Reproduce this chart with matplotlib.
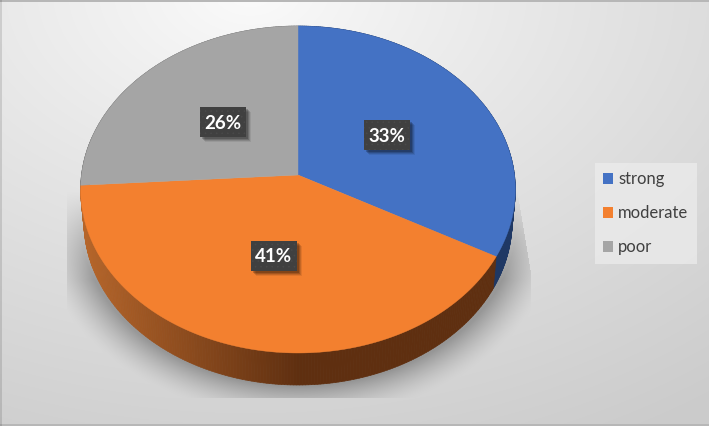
import numpy as np
import matplotlib
matplotlib.use('Agg')
import matplotlib.pyplot as plt
from matplotlib.patches import Polygon, Rectangle, Patch
from matplotlib.collections import PolyCollection

categories = ['strong', 'moderate', 'poor']
values = [33, 41, 26]
colors = ['#4472C4', '#F3802F', '#A5A5A5']
side_dark = ['#1F3864', '#5F2F10', '#6B6B6B']
side_light = ['#1F3864', '#B5652A', '#6B6B6B']

W, H = 709, 426
cx, cy = 298, 175
a, b, k = 216.5, 162.2, -0.0887
depth = 32


def project(ang, r=1.0):
    # clockwise angle from 12 o'clock on the tilted disc
    u = r * np.sin(ang)
    v = r * np.cos(ang)
    d = 1 - k * v
    return cx + a * u / d, cy - b * v / d


def background():
    yy, xx = np.mgrid[0:H, 0:W]
    dist = np.sqrt(((xx - 250) / 640.0) ** 2 + ((yy + 10) / 430.0) ** 2)
    g = np.clip(0.985 - 0.16 * np.clip(dist, 0, 1.2) ** 0.9, 0, 1)
    g[yy > 397] = np.minimum(g[yy > 397], 0.83)
    # soft shadow round the pie, cut off by a box
    e = (np.sqrt(((xx - 298) / 218.0) ** 2 + ((yy - 222) / 163.5) ** 2) - 1) * 190
    sh = 0.30 * np.clip(1 - e / 38.0, 0, 1) ** 1.5
    sh *= np.clip((yy - 190) / 90.0, 0, 1)
    sh[yy > 397] = 0
    sh[xx < 67] = 0
    sh[xx > 515 + np.clip(yy - 180, 0, 90) * 15 / 90.0] = 0
    g = g * (1 - sh)
    g[:2, :] = 0.72
    g[-2:, :] = 0.72
    g[:, :2] *= 0.88
    return np.dstack([g, g, g])


fig = plt.figure(figsize=(W / 100, H / 100), dpi=100)
ax = fig.add_axes([0, 0, 1, 1])
ax.imshow(background(), extent=(0, W, H, 0), aspect='auto', interpolation='bilinear', zorder=0)
ax.set_xlim(0, W)
ax.set_ylim(H, 0)
ax.axis('off')

edges = 2 * np.pi * np.cumsum([0] + values) / sum(values)

# side wall
for i in range(len(values)):
    th = np.linspace(edges[i], edges[i + 1], 200)
    x, y = project(th)
    x2 = cx + (x - cx) * 0.985
    y2 = y + depth
    quads = []
    cols = []
    dark = np.array(matplotlib.colors.to_rgb(side_dark[i]))
    light = np.array(matplotlib.colors.to_rgb(side_light[i]))
    for j in range(len(th) - 1):
        quads.append([(x[j], y[j]), (x[j + 1], y[j + 1]), (x2[j + 1], y2[j + 1]), (x2[j], y2[j])])
        t = np.clip((x[j] - 85) / 215.0, 0, 1)
        cols.append(light * (1 - t) + dark * t)
    ax.add_collection(PolyCollection(quads, facecolors=cols, edgecolors=cols, linewidths=0.5, zorder=2))

# top face
for i in range(len(values)):
    th = np.linspace(edges[i], edges[i + 1], 300)
    x, y = project(th)
    pts = np.column_stack([np.r_[cx, x], np.r_[cy, y]])
    ax.add_patch(Polygon(pts, closed=True, facecolor=colors[i], edgecolor=colors[i], linewidth=0.3, zorder=3))

# labels
plt.rcParams['hatch.linewidth'] = 0.4
for i, val in enumerate(values):
    lx, ly = project((edges[i] + edges[i + 1]) / 2, 0.49)
    for s, al in [(5, 0.08), (4, 0.12), (3, 0.16), (2, 0.2)]:
        ax.add_patch(Rectangle((lx - 23 + s, ly - 15 + s), 46, 30, facecolor='black', alpha=al, edgecolor='none', zorder=4))
    ax.add_patch(Rectangle((lx - 23, ly - 15), 46, 30, facecolor='#404040', edgecolor='#4A4A4A', hatch='...', linewidth=0, zorder=5))
    ax.text(lx, ly + 1, '%d%%' % val, color='white', fontsize=13.5, fontweight='bold', family='Lato',
            ha='center', va='center', zorder=6)

handles = [Patch(facecolor=c, edgecolor='none') for c in colors]
leg = ax.legend(handles, categories, loc='upper left', bbox_to_anchor=(595, 163), bbox_transform=ax.transData,
                prop={'family': 'Lato', 'size': 12}, labelcolor='#404040', frameon=True, fancybox=False,
                facecolor='#ECECEC', edgecolor='none', framealpha=0.75, borderaxespad=0, borderpad=0.5,
                handlelength=0.6, handleheight=0.6, handletextpad=0.3, labelspacing=1.08)
leg.set_zorder(7)

fig.savefig('out.png', dpi=100)
